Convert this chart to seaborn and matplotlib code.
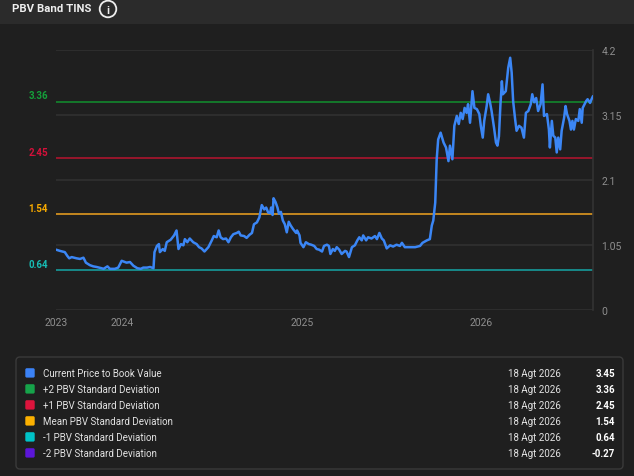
import pandas as pd
import matplotlib.pyplot as plt
import seaborn as sns
from matplotlib.patches import FancyBboxPatch, Rectangle, Circle

# PBV series
dates = [
    "2023-08-18", "2023-08-26", "2023-09-05", "2023-09-10", "2023-09-14", "2023-09-19", "2023-09-29", "2023-10-06", "2023-10-13", "2023-10-18",
    "2023-10-26", "2023-11-02", "2023-11-09", "2023-11-19", "2023-11-23", "2023-12-01", "2023-12-06", "2023-12-16", "2023-12-23", "2023-12-30",
    "2024-01-09", "2024-01-16", "2024-01-23", "2024-01-31", "2024-02-07", "2024-02-12", "2024-02-20", "2024-02-26", "2024-03-04", "2024-03-06",
    "2024-03-11", "2024-03-15", "2024-03-17", "2024-03-23", "2024-03-27", "2024-03-31", "2024-04-08", "2024-04-15", "2024-04-20", "2024-04-24",
    "2024-04-29", "2024-05-04", "2024-05-07", "2024-05-12", "2024-05-17", "2024-05-24", "2024-05-31", "2024-06-05", "2024-06-10", "2024-06-16",
    "2024-06-24", "2024-07-01", "2024-07-05", "2024-07-11", "2024-07-15", "2024-07-19", "2024-07-24", "2024-07-30", "2024-08-04", "2024-08-09",
    "2024-08-14", "2024-08-21", "2024-08-25", "2024-08-29", "2024-09-05", "2024-09-10", "2024-09-16", "2024-09-21", "2024-09-25", "2024-10-01",
    "2024-10-06", "2024-10-11", "2024-10-16", "2024-10-20", "2024-10-24", "2024-10-28", "2024-10-30", "2024-11-02", "2024-11-04", "2024-11-08",
    "2024-11-12", "2024-11-15", "2024-11-19", "2024-11-23", "2024-11-27", "2024-12-01", "2024-12-05", "2024-12-09", "2024-12-14", "2024-12-20",
    "2024-12-22", "2024-12-27", "2024-12-29", "2025-01-04", "2025-01-09", "2025-01-15", "2025-01-20", "2025-01-26", "2025-01-31", "2025-02-05",
    "2025-02-11", "2025-02-15", "2025-02-21", "2025-02-25", "2025-02-28", "2025-03-05", "2025-03-09", "2025-03-13", "2025-03-18", "2025-03-23",
    "2025-03-30", "2025-04-02", "2025-04-07", "2025-04-13", "2025-04-19", "2025-04-24", "2025-04-28", "2025-05-03", "2025-05-06", "2025-05-12",
    "2025-05-16", "2025-05-23", "2025-05-30", "2025-06-03", "2025-06-08", "2025-06-13", "2025-06-17", "2025-06-23", "2025-06-30", "2025-07-06",
    "2025-07-13", "2025-07-20", "2025-07-24", "2025-07-30", "2025-08-10", "2025-08-20", "2025-08-30", "2025-09-04", "2025-09-13", "2025-09-19",
    "2025-09-23", "2025-09-26", "2025-09-30", "2025-10-03", "2025-10-06", "2025-10-11", "2025-10-17", "2025-10-22", "2025-10-27", "2025-10-30",
    "2025-11-04", "2025-11-08", "2025-11-13", "2025-11-17", "2025-11-21", "2025-11-25", "2025-11-29", "2025-12-03", "2025-12-06", "2025-12-10",
    "2025-12-15", "2025-12-19", "2025-12-24", "2025-12-29", "2026-01-01", "2026-01-05", "2026-01-08", "2026-01-13", "2026-01-16", "2026-01-20",
    "2026-01-23", "2026-01-28", "2026-02-01", "2026-02-04", "2026-02-07", "2026-02-10", "2026-02-13", "2026-02-15", "2026-02-21", "2026-02-26",
    "2026-03-02", "2026-03-05", "2026-03-08", "2026-03-12", "2026-03-15", "2026-03-20", "2026-03-25", "2026-03-30", "2026-04-03", "2026-04-08",
    "2026-04-13", "2026-04-16", "2026-04-20", "2026-04-24", "2026-04-28", "2026-05-03", "2026-05-07", "2026-05-10", "2026-05-16", "2026-05-20",
    "2026-05-22", "2026-05-26", "2026-05-29", "2026-06-02", "2026-06-05", "2026-06-08", "2026-06-12", "2026-06-15", "2026-06-20", "2026-06-23",
    "2026-06-26", "2026-07-01", "2026-07-04", "2026-07-07", "2026-07-10", "2026-07-14", "2026-07-19", "2026-07-22", "2026-07-26", "2026-07-28",
    "2026-08-04", "2026-08-07", "2026-08-12", "2026-08-15", "2026-08-18",
]
pbv = [
    0.97, 0.95, 0.93, 0.87, 0.83, 0.85, 0.83, 0.82, 0.84, 0.76,
    0.72, 0.70, 0.69, 0.67, 0.66, 0.70, 0.66, 0.66, 0.68, 0.79,
    0.76, 0.77, 0.71, 0.67, 0.66, 0.68, 0.68, 0.69, 0.67, 0.93,
    1.03, 1.06, 0.93, 0.98, 0.95, 1.09, 1.13, 1.20, 1.28, 0.98,
    1.06, 1.04, 1.14, 1.09, 1.15, 1.09, 1.06, 1.01, 0.99, 0.94,
    1.01, 1.12, 1.19, 1.17, 1.28, 1.17, 1.14, 1.15, 1.09, 1.17,
    1.22, 1.24, 1.26, 1.20, 1.19, 1.16, 1.21, 1.24, 1.38, 1.41,
    1.49, 1.69, 1.62, 1.65, 1.57, 1.56, 1.65, 1.53, 1.80, 1.74,
    1.65, 1.55, 1.58, 1.44, 1.38, 1.25, 1.42, 1.36, 1.30, 1.24,
    1.28, 1.20, 1.08, 1.01, 1.09, 1.06, 1.05, 1.03, 0.98, 0.97,
    0.94, 1.03, 1.05, 1.03, 0.90, 0.98, 0.95, 1.01, 0.97, 0.90,
    0.95, 0.94, 0.85, 1.01, 1.04, 1.12, 1.17, 1.12, 1.20, 1.12,
    1.17, 1.15, 1.19, 1.14, 1.24, 1.15, 1.12, 0.99, 1.04, 1.02,
    1.05, 1.03, 1.08, 1.01, 1.01, 1.01, 1.03, 1.08, 1.12, 1.14,
    1.36, 1.44, 1.73, 2.43, 2.75, 2.86, 2.70, 2.62, 2.40, 2.65,
    2.43, 2.97, 3.13, 3.00, 3.18, 3.08, 3.26, 3.18, 3.32, 3.02,
    3.53, 3.26, 3.24, 3.16, 2.97, 2.78, 3.05, 3.29, 3.48, 3.34,
    3.21, 2.94, 2.70, 2.65, 2.80, 3.30, 3.69, 3.48, 3.53, 3.91,
    4.07, 3.83, 3.37, 3.08, 2.89, 2.97, 2.94, 2.78, 3.18, 3.21,
    3.32, 3.48, 3.35, 3.42, 3.21, 3.32, 3.64, 3.13, 3.16, 2.91,
    2.62, 3.05, 2.81, 2.78, 2.54, 2.78, 2.59, 2.89, 3.10, 3.29,
    3.16, 3.05, 2.91, 3.05, 2.91, 3.08, 3.05, 3.24, 3.02, 3.26,
    3.37, 3.40, 3.34, 3.40, 3.45,
]

# standard deviation bands (+2, +1, mean, -1, -2)
band_values = [3.36, 2.45, 1.54, 0.64, -0.27]
band_line_colors = ["#11902e", "#b8142f", "#f0a420", "#15a6a6", "#5b16d8"]
band_text_colors = ["#14a03a", "#d5103a", "#f5a800", "#17bdb5", "#6a2ae0"]

legend_labels = [
    "Current Price to Book Value",
    "+2 PBV Standard Deviation",
    "+1 PBV Standard Deviation",
    "Mean PBV Standard Deviation",
    "-1 PBV Standard Deviation",
    "-2 PBV Standard Deviation",
]
legend_values = [3.45, 3.36, 2.45, 1.54, 0.64, -0.27]
legend_colors = ["#3b82f6", "#16a34a", "#dc143c", "#fbb000", "#00c2c7", "#5b16d8"]
last_date = "18 Agt 2026"

y_ticks = [0, 1.05, 2.1, 3.15, 4.2]
x_tick_dates = ["2023-08-18", "2024-01-01", "2025-01-01", "2026-01-01"]
x_tick_labels = ["2023", "2024", "2025", "2026"]

BG = "#1f1f1f"
LINE = "#3b86f5"

sns.set_theme(style="dark")
plt.rcParams["font.family"] = ["Roboto", "DejaVu Sans"]

df = pd.DataFrame({"date": pd.to_datetime(dates), "pbv": pbv})

fig = plt.figure(figsize=(6.34, 4.77), dpi=100, facecolor=BG)

# overlay in pixel units for header + legend panel
ov = fig.add_axes([0, 0, 1, 1])
ov.set_xlim(0, 634)
ov.set_ylim(477, 0)
ov.axis("off")
ov.add_patch(Rectangle((0, 0), 634, 25, color="#2b2b2b", lw=0))
ov.text(12, 9.5, "PBV Band TINS", color="#eeeeee", fontsize=8.2, fontweight="bold", va="center")
ov.add_patch(Circle((108, 10), 8.3, fill=False, ec="#eeeeee", lw=1.3))
ov.text(108, 10.5, "i", color="#eeeeee", fontsize=8, fontweight="bold", ha="center", va="center")

ov.add_patch(FancyBboxPatch((16, 358), 607, 112, boxstyle="round,pad=0,rounding_size=4",
                            fc=BG, ec="#3a3a3a", lw=1))
for i, (lab, val, col) in enumerate(zip(legend_labels, legend_values, legend_colors)):
    y = 374 + 16 * i
    ov.add_patch(FancyBboxPatch((25.3, y - 4.8), 9.4, 9.4, boxstyle="round,pad=0,rounding_size=1.5",
                                fc=col, ec="none"))
    ov.text(43, y, lab, color="#e2e2e2", fontsize=7, va="center")
    ov.text(508, y, last_date, color="#e2e2e2", fontsize=7, va="center")
    ov.text(615, y, f"{val:.2f}", color="#ffffff", fontsize=7, fontweight="bold", va="center", ha="right")

# main chart
ax = fig.add_axes([56 / 634, 166.3 / 477, 537 / 634, 260 / 477])
ax.set_facecolor(BG)
ax.set_ylim(0, 4.2)
ax.set_xlim(df["date"].iloc[0], df["date"].iloc[-1])

for v, lc, tc in zip(band_values, band_line_colors, band_text_colors):
    if v < 0:
        continue
    ax.axhline(v, color=lc, lw=1.1, zorder=2)
    ax.annotate(f"{v:.2f}", xy=(0, v), xycoords=("axes fraction", "data"), xytext=(-8, 6.5),
                textcoords="offset pixels", ha="right", va="center", color=tc,
                fontsize=7, fontweight="bold", annotation_clip=False)

sns.lineplot(data=df, x="date", y="pbv", ax=ax, color=LINE, lw=1.8, zorder=3)

ax.yaxis.tick_right()
ax.set_yticks(y_ticks)
ax.set_yticklabels([f"{t:g}" for t in y_ticks])
ax.set_xticks(pd.to_datetime(x_tick_dates))
ax.set_xticklabels(x_tick_labels)
ax.tick_params(length=0, labelsize=7.5, labelcolor="#8e8e8e")
ax.tick_params(axis="y", pad=6)
ax.tick_params(axis="x", pad=5)
ax.set_xlabel("")
ax.set_ylabel("")
ax.grid(axis="y", color="#303030", lw=1.2)
ax.grid(axis="x", visible=False)
for side in ["top", "left", "bottom"]:
    ax.spines[side].set_visible(False)
ax.spines["right"].set_color("#333333")
ax.spines["right"].set_linewidth(1.2)

fig.savefig("out.png", dpi=100, facecolor=BG)
